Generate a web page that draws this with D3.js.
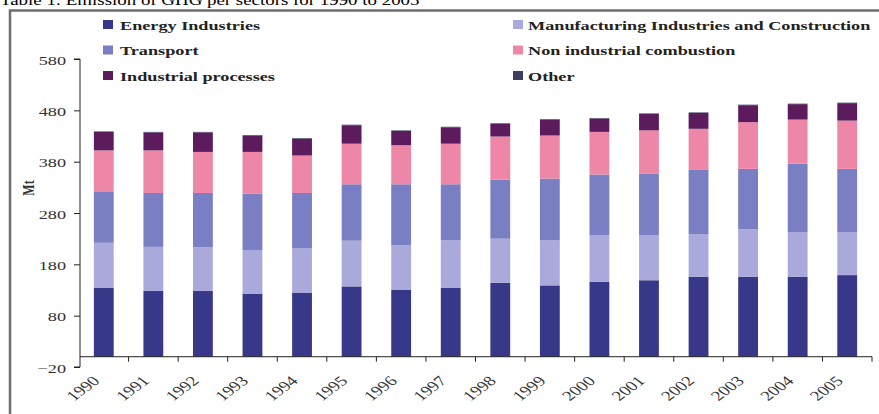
<!DOCTYPE html>
<html>
<head>
<meta charset="utf-8">
<script src="https://cdn.jsdelivr.net/npm/d3@7"></script>
<style>
  body { margin: 0; background: #fff; }
  svg { display: block; font-family: "Liberation Serif", "Times New Roman", serif; }
</style>
</head>
<body>
<svg width="879" height="414"></svg>
<script>
// values, Mt
let years = ["1990","1991","1992","1993","1994","1995","1996","1997","1998","1999","2000","2001","2002","2003","2004","2005"];
let energy    = [134,128,128,123,125,137,130,134,144,139,146,149,156,156,156,159];
let manufact  = [ 88, 86, 85, 85, 86, 89, 87, 93, 86, 88, 91, 88, 83, 92, 87, 84];
let transport = [ 99,105,106,110,108,110,119,109,115,120,118,120,126,118,133,123];
let nonInd    = [ 81, 83, 80, 81, 73, 79, 76, 79, 84, 84, 83, 84, 79, 91, 86, 94];
let indProc   = [ 36, 35, 38, 32, 33, 36, 28, 32, 25, 31, 26, 32, 31, 33, 30, 34];
let other     = [  1,  1,  1,  1,  1,  1,  1,  1,  1,  1,  1,  1,  1,  1,  1,  1];
let yTicks = [-20, 80, 180, 280, 380, 480, 580];

let series = [
  { key: "energy",    name: "Energy Industries",                         values: energy,    color: "#38388a" },
  { key: "manufact",  name: "Manufacturing Industries and Construction", values: manufact,  color: "#a9a9dc" },
  { key: "transport", name: "Transport",                                 values: transport, color: "#7a7ec2" },
  { key: "nonInd",    name: "Non industrial combustion",                 values: nonInd,    color: "#ee86a8" },
  { key: "indProc",   name: "Industrial processes",                      values: indProc,   color: "#5c1b5c" },
  { key: "other",     name: "Other",                                     values: other,     color: "#3e3e5e" }
];

let rows = years.map((y, i) => {
  let r = { year: y };
  series.forEach(s => r[s.key] = s.values[i]);
  return r;
});

let svg = d3.select("svg");
let sx = 1.35; // the source picture is stretched sideways

// frame + cut-off title
svg.append("text")
  .attr("transform", "translate(0,5) scale(" + sx + ",1)")
  .attr("font-size", 14)
  .text("Table 1: Emission of GHG per sectors for 1990 to 2005");

svg.append("rect")
  .attr("x", 10).attr("y", 10.5)
  .attr("width", 900).attr("height", 430)
  .attr("fill", "none").attr("stroke", "#6e6e6e").attr("stroke-width", 2.5);

let x = d3.scaleBand().domain(years).range([79, 872]).paddingInner(0.6).paddingOuter(0.3);
let y = d3.scaleLinear().domain([-20, 580]).range([367, 59]);

let stack = d3.stack().keys(series.map(s => s.key));
let layers = stack(rows);

svg.append("g")
  .selectAll("g")
  .data(layers)
  .enter()
  .append("g")
  .attr("fill", (d, i) => series[i].color)
  .selectAll("rect")
  .data(d => d)
  .enter()
  .append("rect")
  .attr("x", d => x(d.data.year))
  .attr("width", x.bandwidth())
  .attr("y", d => y(d[1]))
  .attr("height", d => y(d[0]) - y(d[1]));

// y axis
let yAxis = svg.append("g")
  .attr("transform", "translate(80,0)")
  .call(d3.axisLeft(y).tickValues(yTicks).tickSize(6).tickPadding(0).tickFormat(d3.format("d")));
yAxis.select(".domain").attr("stroke", "#222").attr("d", "M-6," + y(580) + "H0V" + y(-20) + "H-6");
yAxis.selectAll(".tick line").attr("stroke", "#222");
yAxis.selectAll(".tick text")
  .attr("x", null).attr("dy", null)
  .attr("transform", "translate(-14,5) scale(" + sx + ",1)")
  .attr("font-family", "Liberation Serif, serif")
  .attr("font-size", 13.5)
  .attr("fill", "#333");

svg.append("text")
  .attr("transform", "translate(34,188) scale(" + sx + ",1) rotate(-90)")
  .attr("text-anchor", "middle")
  .attr("font-weight", "bold")
  .attr("font-size", 12)
  .attr("fill", "#333")
  .text("Mt");

// x axis at zero, ticks between the bars
let xAxis = svg.append("g").attr("transform", "translate(0," + y(0) + ")");
xAxis.append("line")
  .attr("x1", 80).attr("x2", x.range()[1])
  .attr("stroke", "#222");
xAxis.selectAll(".tk")
  .data(years.map((d, i) => i + 1))
  .enter()
  .append("line")
  .attr("x1", i => x.range()[0] + i * x.step())
  .attr("x2", i => x.range()[0] + i * x.step())
  .attr("y1", 0).attr("y2", 5)
  .attr("stroke", "#222");
xAxis.selectAll(".lbl")
  .data(years)
  .enter()
  .append("text")
  .attr("transform", d => "translate(" + (x(d) + x.bandwidth() / 2 - 3) + ",25) scale(" + sx + ",1) rotate(-45)")
  .attr("text-anchor", "end")
  .attr("font-size", 14)
  .attr("fill", "#333")
  .text(d => d);

// legend, two columns
let legend = svg.append("g").attr("font-weight", "bold").attr("font-size", 13.5);
let legPos = [[103, 0], [513, 0], [103, 1], [513, 1], [103, 2], [513, 2]];
let li = legend.selectAll("g")
  .data(series)
  .enter()
  .append("g")
  .attr("transform", (d, i) => "translate(" + legPos[i][0] + "," + (20 + legPos[i][1] * 25.5) + ")");
li.append("rect")
  .attr("width", 10).attr("height", 9)
  .attr("fill", d => d.color);
li.append("text")
  .attr("transform", (d, i) => "translate(" + (i % 2 ? 15 : 17) + ",9.5) scale(" + sx + ",1)")
  .attr("fill", "#222")
  .text(d => d.name);
</script>
</body>
</html>
